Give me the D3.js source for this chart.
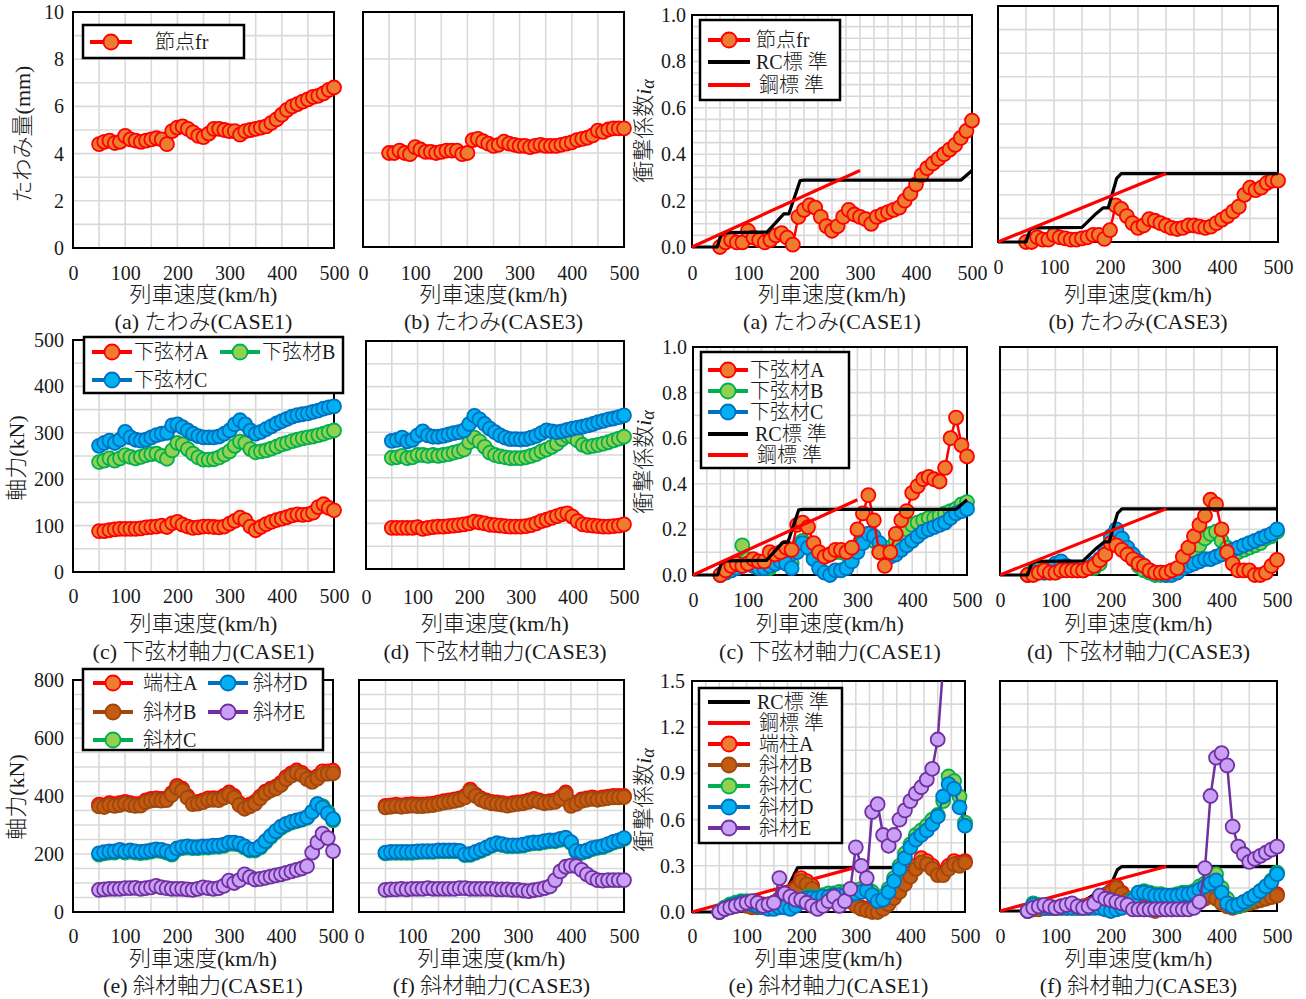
<!DOCTYPE html>
<html>
<head>
<meta charset="utf-8">
<script src="https://cdn.jsdelivr.net/npm/d3@7"></script>
<style>
  body { margin: 0; background: #fff; }
  text { font-family: "Liberation Serif", "Noto Sans CJK JP", serif; fill: #1a1a1a; font-weight: 300; }
</style>
</head>
<body>
<script>
// ---- data (km/h vs value) ----
const speeds = [50,60,70,80,90,100,110,120,130,140,150,160,170,180,190,200,210,220,230,240,250,260,270,280,290,300,310,320,330,340,350,360,370,380,390,400,410,420,430,440,450,460,470,480,490,500];
const xTicks = [0,100,200,300,400,500];
const deflTicks = [0,2,4,6,8,10];
const axialTicks = [0,100,200,300,400,500];
const diagTicks = [0,200,400,600,800];
const impactTicks = [0,0.2,0.4,0.6,0.8,1.0];
const impactTicks15 = [0,0.3,0.6,0.9,1.2,1.5];

// design standard lines
const rcSpeedC1 = [0,45,52,60,134,164,173,193,200,480,500];
const rcValC1 = [0,0,0.055,0.062,0.064,0.143,0.143,0.286,0.288,0.288,0.33];
const rcSpeedC3 = [0,50,57,65,150,175,188,197,212,220,500];
const rcValC3 = [0,0,0.05,0.06,0.062,0.12,0.145,0.145,0.27,0.29,0.29];
const steelSpeed = [0,300];
const steelValA = [0,0.33];
const steelValB = [0,0.29];

// (a)(b) deflection
const defl1 = [4.4,4.5,4.55,4.45,4.5,4.75,4.6,4.55,4.5,4.55,4.6,4.65,4.6,4.4,4.95,5.1,5.15,5.05,4.9,4.75,4.7,4.85,5.05,5.05,5.0,4.95,4.95,4.8,4.95,5.0,5.05,5.1,5.15,5.3,5.45,5.65,5.85,6.0,6.1,6.2,6.3,6.4,6.45,6.55,6.7,6.8];
const defl3 = [4.0,4.0,4.1,4.0,3.95,4.25,4.15,4.05,4.05,4.0,4.05,4.1,4.1,4.1,3.95,4.0,4.55,4.6,4.5,4.4,4.3,4.35,4.48,4.4,4.35,4.3,4.3,4.25,4.3,4.35,4.3,4.3,4.3,4.35,4.4,4.45,4.55,4.6,4.65,4.75,4.95,4.9,5.0,5.05,5.05,5.05];
const impDefl1 = [0.0,0.02,0.03,0.02,0.02,0.07,0.04,0.03,0.02,0.03,0.05,0.06,0.04,0.01,0.13,0.16,0.18,0.17,0.13,0.09,0.07,0.09,0.13,0.16,0.14,0.13,0.12,0.1,0.13,0.14,0.15,0.16,0.17,0.2,0.23,0.27,0.31,0.34,0.36,0.38,0.4,0.42,0.44,0.47,0.5,0.545];
const impDefl3 = [0.0,0.0,0.02,0.01,0.01,0.03,0.02,0.015,0.01,0.01,0.015,0.02,0.03,0.03,0.013,0.05,0.155,0.14,0.11,0.08,0.06,0.07,0.097,0.09,0.08,0.07,0.06,0.055,0.06,0.07,0.07,0.065,0.06,0.065,0.08,0.095,0.11,0.13,0.15,0.2,0.23,0.22,0.23,0.25,0.26,0.26];

// (c)(d) lower chord axial force (kN)
const chordA1 = [88,88,90,92,93,93,93,93,94,96,97,98,100,97,105,108,102,98,95,96,98,98,97,96,98,104,110,117,112,98,90,97,103,108,112,115,118,122,124,123,124,128,140,146,138,133];
const chordB1 = [237,240,245,240,245,252,248,245,248,252,254,255,250,244,262,278,275,265,255,247,242,242,243,247,253,260,272,281,278,265,258,260,262,266,270,275,278,282,285,288,290,292,295,298,302,305];
const chordC1 = [272,278,283,278,285,302,290,285,283,285,290,295,298,300,316,318,312,305,298,293,290,290,290,292,298,305,318,327,318,305,298,302,308,314,320,325,330,335,338,340,342,345,348,352,355,357];
const chordA3 = [90,90,90,90,90,92,88,90,92,93,93,94,95,96,98,100,104,102,100,97,96,95,94,93,93,93,94,96,100,105,108,112,116,120,122,115,105,98,96,95,94,93,93,94,95,98];
const chordB3 = [244,245,248,243,245,250,250,248,250,248,250,252,255,258,262,278,288,280,268,255,250,247,245,243,243,243,245,248,252,258,262,268,275,285,292,290,282,272,268,270,272,275,278,282,286,290];
const chordC3 = [281,283,288,280,283,293,302,293,290,290,292,295,298,300,304,318,336,328,318,308,300,293,288,285,285,284,285,288,292,298,304,302,300,302,305,308,310,312,315,318,322,325,328,330,333,337];

// impact factor of lower chords
const impChordA1 = [0.0,0.02,0.04,0.05,0.04,0.05,0.07,0.06,0.06,0.1,0.09,0.1,0.12,0.11,0.22,0.23,0.21,0.14,0.1,0.08,0.09,0.11,0.11,0.1,0.12,0.2,0.27,0.35,0.24,0.1,0.04,0.1,0.18,0.24,0.28,0.36,0.39,0.42,0.43,0.42,0.41,0.47,0.6,0.69,0.57,0.52];
const impChordB1 = [0.0,0.02,0.03,0.04,0.13,0.07,0.05,0.04,0.03,0.03,0.05,0.07,0.06,0.05,0.12,0.15,0.12,0.08,0.07,0.08,0.09,0.1,0.1,0.09,0.1,0.12,0.15,0.18,0.15,0.1,0.1,0.12,0.15,0.18,0.2,0.22,0.23,0.24,0.25,0.25,0.26,0.27,0.28,0.29,0.31,0.32];
const impChordC1 = [0.0,0.01,0.02,0.03,0.04,0.05,0.04,0.03,0.03,0.04,0.05,0.06,0.05,0.03,0.1,0.14,0.12,0.07,0.03,0.01,0.0,0.02,0.02,0.03,0.06,0.1,0.14,0.18,0.17,0.14,0.1,0.08,0.09,0.11,0.13,0.15,0.17,0.19,0.2,0.21,0.22,0.23,0.25,0.27,0.28,0.29];
const impChordA3 = [0.0,0.0,0.01,0.02,0.01,0.01,0.02,0.02,0.02,0.02,0.02,0.03,0.04,0.065,0.09,0.14,0.13,0.11,0.09,0.07,0.05,0.04,0.02,0.01,0.01,0.01,0.02,0.03,0.08,0.12,0.17,0.22,0.26,0.33,0.31,0.2,0.1,0.05,0.02,0.02,0.02,0.0,0.0,0.01,0.04,0.066];
const impChordB3 = [0.0,0.02,0.02,0.01,0.01,0.01,0.02,0.02,0.02,0.02,0.02,0.03,0.03,0.05,0.1,0.15,0.175,0.14,0.1,0.07,0.04,0.02,0.01,0.0,0.0,0.0,0.01,0.02,0.04,0.07,0.1,0.13,0.16,0.18,0.19,0.15,0.12,0.1,0.1,0.11,0.12,0.13,0.14,0.16,0.17,0.19];
const impChordC3 = [0.0,0.01,0.01,0.01,0.02,0.05,0.06,0.04,0.03,0.02,0.02,0.03,0.05,0.07,0.11,0.17,0.2,0.16,0.12,0.09,0.06,0.04,0.02,0.01,0.01,0.0,0.0,0.01,0.03,0.04,0.05,0.06,0.07,0.07,0.08,0.09,0.1,0.11,0.12,0.13,0.14,0.15,0.16,0.17,0.18,0.2];

// (e)(f) end post / diagonal axial force (kN)
const diagA1 = [370,368,375,372,375,380,375,372,373,385,390,392,390,392,410,435,425,400,378,380,385,392,393,392,400,412,400,375,362,370,380,398,415,425,432,445,465,478,488,480,465,455,468,485,485,487];
const diagB1 = [364,362,369,366,369,374,369,366,367,379,384,386,384,386,404,428,419,394,372,374,379,386,387,386,394,405,394,369,356,364,374,392,409,419,426,438,458,470,480,473,458,449,460,475,477,478];
const diagC1 = [198,202,205,205,210,205,208,205,203,205,208,212,210,205,198,215,220,222,220,220,222,222,225,225,228,235,235,232,222,212,212,222,240,258,275,290,300,308,313,318,325,345,372,365,345,316];
const diagD1 = [202,206,209,209,214,209,212,209,207,209,212,216,214,209,202,219,224,226,224,224,226,226,229,229,232,239,239,236,226,216,216,226,244,262,279,294,304,311,316,320,327,345,372,360,340,320];
const diagE1 = [76,78,80,80,80,82,82,83,80,82,85,90,85,82,80,80,80,78,76,80,85,82,80,82,90,108,100,110,130,120,112,114,118,122,126,130,135,140,145,150,158,205,240,270,255,210];
const diagA3 = [366,368,370,368,370,372,370,370,372,374,378,382,385,388,392,400,422,405,392,385,380,378,375,372,375,378,380,385,390,385,380,382,385,395,412,370,378,388,392,395,392,395,398,400,400,400];
const diagB3 = [361,363,365,363,365,367,365,365,367,369,373,377,380,383,387,395,416,400,387,380,375,373,370,367,370,373,375,380,385,380,375,377,380,390,406,366,373,383,387,390,387,390,393,395,395,396];
const diagC3 = [202,204,204,204,204,204,206,207,207,207,209,209,209,209,208,196,197,204,211,219,228,234,231,227,227,227,229,234,237,237,241,244,244,249,253,238,208,204,209,217,221,224,231,239,244,252];
const diagD3 = [205,207,207,207,207,207,209,210,210,210,212,212,212,212,211,199,200,207,214,222,231,237,234,230,230,230,232,237,240,240,244,247,247,252,256,241,211,207,212,220,224,227,234,242,247,255];
const diagE3 = [76,78,78,80,78,80,80,80,82,80,80,80,80,80,82,82,80,80,80,80,80,78,78,78,76,76,74,72,75,78,82,88,110,140,156,160,158,145,130,118,110,108,110,110,110,110];

// impact factor of end post / diagonals
const impDiagA1 = [0.0,0.02,0.04,0.05,0.06,0.05,0.04,0.04,0.05,0.05,0.06,0.08,0.08,0.1,0.16,0.22,0.2,0.17,0.1,0.08,0.08,0.1,0.1,0.1,0.08,0.05,0.03,0.02,0.01,0.01,0.03,0.06,0.1,0.15,0.2,0.25,0.3,0.35,0.33,0.3,0.26,0.25,0.3,0.33,0.32,0.33];
const impDiagB1 = [0.0,0.02,0.03,0.04,0.05,0.04,0.03,0.03,0.04,0.04,0.05,0.07,0.07,0.09,0.15,0.2,0.18,0.15,0.09,0.07,0.07,0.09,0.09,0.09,0.07,0.04,0.02,0.01,0.0,0.0,0.02,0.05,0.09,0.13,0.18,0.23,0.28,0.32,0.31,0.28,0.24,0.24,0.28,0.31,0.3,0.32];
const impDiagC1 = [0.0,0.03,0.05,0.06,0.07,0.07,0.06,0.05,0.04,0.03,0.03,0.04,0.04,0.03,0.05,0.08,0.1,0.1,0.1,0.11,0.12,0.12,0.13,0.13,0.13,0.14,0.15,0.16,0.13,0.09,0.1,0.15,0.22,0.3,0.38,0.44,0.5,0.53,0.56,0.6,0.63,0.72,0.88,0.85,0.75,0.58];
const impDiagD1 = [0.0,0.02,0.04,0.05,0.06,0.06,0.05,0.04,0.03,0.02,0.02,0.03,0.03,0.02,0.04,0.07,0.09,0.09,0.09,0.1,0.1,0.11,0.11,0.11,0.11,0.12,0.13,0.14,0.11,0.07,0.08,0.13,0.2,0.28,0.35,0.42,0.47,0.5,0.53,0.57,0.62,0.75,0.83,0.8,0.68,0.56];
const impDiagE1 = [0.0,0.02,0.03,0.04,0.05,0.06,0.07,0.06,0.04,0.05,0.06,0.22,0.12,0.1,0.08,0.08,0.06,0.04,0.02,0.04,0.07,0.1,0.04,0.07,0.15,0.42,0.3,0.22,0.65,0.7,0.5,0.43,0.5,0.6,0.66,0.72,0.77,0.81,0.86,0.93,1.12,1.6,1.9,2.1,2.0,1.9];
const impDiagA3 = [0.0,0.01,0.02,0.02,0.02,0.02,0.03,0.03,0.03,0.03,0.03,0.04,0.05,0.07,0.1,0.13,0.16,0.12,0.08,0.05,0.03,0.02,0.01,0.01,0.02,0.02,0.02,0.03,0.04,0.05,0.06,0.07,0.09,0.11,0.09,0.06,0.04,0.03,0.04,0.05,0.06,0.07,0.08,0.09,0.1,0.11];
const impDiagB3 = [0.0,0.01,0.01,0.02,0.02,0.02,0.02,0.02,0.02,0.02,0.03,0.03,0.04,0.06,0.09,0.12,0.15,0.11,0.07,0.04,0.02,0.01,0.01,0.0,0.01,0.01,0.01,0.02,0.03,0.04,0.05,0.06,0.08,0.1,0.08,0.05,0.03,0.02,0.03,0.04,0.05,0.06,0.07,0.08,0.09,0.1];
const impDiagC3 = [0.0,0.05,0.04,0.03,0.02,0.02,0.03,0.03,0.03,0.02,0.02,0.02,0.03,0.03,0.02,0.02,0.02,0.03,0.05,0.08,0.12,0.13,0.12,0.11,0.11,0.1,0.1,0.11,0.12,0.12,0.13,0.16,0.18,0.2,0.24,0.15,0.08,0.04,0.03,0.05,0.07,0.1,0.13,0.16,0.2,0.25];
const impDiagD3 = [0.0,0.04,0.03,0.02,0.02,0.02,0.02,0.02,0.02,0.02,0.02,0.02,0.02,0.02,0.01,0.0,0.01,0.02,0.04,0.07,0.12,0.12,0.11,0.1,0.1,0.1,0.1,0.1,0.11,0.11,0.12,0.14,0.16,0.18,0.2,0.12,0.05,0.03,0.04,0.06,0.08,0.1,0.13,0.16,0.19,0.24];
const impDiagE3 = [0.0,0.02,0.03,0.04,0.03,0.02,0.03,0.04,0.05,0.03,0.02,0.03,0.05,0.1,0.08,0.07,0.06,0.05,0.04,0.01,0.01,0.01,0.01,0.01,0.01,0.01,0.01,0.01,0.01,0.01,0.02,0.06,0.28,0.75,1.0,1.03,0.95,0.55,0.42,0.37,0.32,0.34,0.36,0.38,0.4,0.42];

// ---- styles ----
const C = {
  red:    { stroke: "#FF0000", fill: "#ED7D31", marker: true },
  green:  { stroke: "#00B050", fill: "#92D050", marker: true },
  blue:   { stroke: "#0070C0", fill: "#00B0F0", marker: true },
  brown:  { stroke: "#9E480E", fill: "#C55A11", marker: true },
  purple: { stroke: "#7030A0", fill: "#C9A0F5", marker: true },
  rc:     { stroke: "#000000", marker: false },
  steel:  { stroke: "#FF0000", marker: false }
};

const svg = d3.select("body").append("svg")
  .attr("width", 1306).attr("height", 999);
const defs = svg.append("defs");
const f1 = d3.format(".1f");
const fd = d3.format("d");

function ser(style, v, xs) { return Object.assign({ v: v, xs: xs || speeds }, style); }

function drawPanel(p) {
  const x = d3.scaleLinear().domain([0, 500]).range([p.left, p.right]);
  const y = d3.scaleLinear().domain([0, p.yMax]).range([p.bottom, p.top]);
  const g = svg.append("g");

  // grid
  const nx = Math.round(500 / p.xStep), ny = Math.round(p.yMax / p.yStep);
  g.append("g").selectAll("line").data(d3.range(1, nx)).join("line")
    .attr("x1", i => x(i * p.xStep)).attr("x2", i => x(i * p.xStep))
    .attr("y1", p.top).attr("y2", p.bottom)
    .attr("stroke", "#D9D9D9").attr("stroke-width", 1.6);
  g.append("g").selectAll("line").data(d3.range(1, ny)).join("line")
    .attr("y1", i => y(i * p.yStep)).attr("y2", i => y(i * p.yStep))
    .attr("x1", p.left).attr("x2", p.right)
    .attr("stroke", "#D9D9D9").attr("stroke-width", 1.6);

  g.append("rect")
    .attr("x", p.left).attr("y", p.top)
    .attr("width", p.right - p.left).attr("height", p.bottom - p.top)
    .attr("fill", "none").attr("stroke", "#000").attr("stroke-width", 2);

  // axes (labels only)
  const xa = g.append("g").attr("transform", `translate(0,${p.bottom})`)
    .call(d3.axisBottom(x).tickValues(xTicks).tickSize(0)
      .tickPadding(p.xLabY - p.bottom - 7.5).tickFormat(fd));
  xa.select(".domain").remove();
  xa.attr("font-size", 20).attr("font-family", null);

  if (p.yTicks) {
    const ya = g.append("g").attr("transform", `translate(${p.left},0)`)
      .call(d3.axisLeft(y).tickValues(p.yTicks).tickSize(0)
        .tickPadding(p.yPad).tickFormat(p.fmt));
    ya.select(".domain").remove();
    ya.attr("font-size", 20).attr("font-family", null);
  }

  // series
  const cid = "clip-" + p.id;
  defs.append("clipPath").attr("id", cid).append("rect")
    .attr("x", p.left - 15).attr("y", p.top)
    .attr("width", p.right - p.left + 30).attr("height", p.bottom - p.top + 15);
  const sg = g.append("g").attr("clip-path", `url(#${cid})`);
  const line = d3.line().x(d => x(d[0])).y(d => y(d[1]));
  p.series.forEach(s => {
    if (s.v.length !== s.xs.length) throw new Error("length mismatch in " + p.id);
    const pts = d3.zip(s.xs, s.v);
    sg.append("path").datum(pts).attr("d", line)
      .attr("fill", "none").attr("stroke", s.stroke)
      .attr("stroke-width", s.marker ? 2.5 : 3.2)
      .attr("stroke-linejoin", "round");
    if (s.marker) {
      sg.append("g").selectAll("circle").data(pts).join("circle")
        .attr("cx", d => x(d[0])).attr("cy", d => y(d[1])).attr("r", 7)
        .attr("fill", s.fill).attr("stroke", s.stroke).attr("stroke-width", 1.8);
    }
  });

  // titles
  const cx = (p.left + p.right) / 2;
  g.append("text").attr("x", cx).attr("y", p.titleY)
    .attr("text-anchor", "middle").attr("dominant-baseline", "central")
    .attr("font-size", 22).text("列車速度(km/h)");
  g.append("text").attr("x", cx).attr("y", p.capY)
    .attr("text-anchor", "middle").attr("dominant-baseline", "central")
    .attr("font-size", 22).text(p.caption);
}

function drawYTitle(cx, cy, label, impact) {
  const t = svg.append("text")
    .attr("transform", `translate(${cx},${cy}) rotate(-90)`)
    .attr("text-anchor", "middle").attr("dominant-baseline", "central")
    .attr("font-size", 22);
  if (impact) {
    t.append("tspan").text("衝撃係数");
    t.append("tspan").attr("font-style", "italic").text("i");
    t.append("tspan").attr("font-style", "italic").attr("dy", 5).attr("font-size", 18).text("α");
  } else {
    t.text(label);
  }
}

function drawLegend(L) {
  const g = svg.append("g");
  g.append("rect").attr("x", L.x).attr("y", L.y).attr("width", L.w).attr("height", L.h)
    .attr("fill", "#fff").attr("stroke", "#000").attr("stroke-width", 2.5);
  L.items.forEach(it => {
    g.append("line").attr("x1", it.x).attr("x2", it.x + it.len)
      .attr("y1", it.y).attr("y2", it.y)
      .attr("stroke", it.s.stroke).attr("stroke-width", 3.8);
    if (it.s.marker) {
      g.append("circle").attr("cx", it.x + it.len / 2).attr("cy", it.y).attr("r", 7.5)
        .attr("fill", it.s.fill).attr("stroke", it.s.stroke).attr("stroke-width", 1.8);
    }
    g.append("text").attr("x", it.tx).attr("y", it.y)
      .attr("dominant-baseline", "central").attr("font-size", 20).text(it.label);
  });
}

// ---- panels ----
const panels = [
  { id: "a1", left: 73, top: 12, right: 334, bottom: 248, yMax: 10, xStep: 50, yStep: 1,
    yTicks: deflTicks, fmt: fd, yPad: 9, xLabY: 273, titleY: 294, capY: 321,
    caption: "(a) たわみ(CASE1)", series: [ser(C.red, defl1)] },
  { id: "b1", left: 363, top: 12, right: 624, bottom: 247, yMax: 10, xStep: 50, yStep: 2,
    xLabY: 273, titleY: 294, capY: 321,
    caption: "(b) たわみ(CASE3)", series: [ser(C.red, defl3)] },
  { id: "a2", left: 692, top: 15, right: 972, bottom: 247, yMax: 1.0, xStep: 25, yStep: 0.05,
    yTicks: impactTicks, fmt: f1, yPad: 6, xLabY: 273, titleY: 294, capY: 321,
    caption: "(a) たわみ(CASE1)",
    series: [ser(C.red, impDefl1), ser(C.rc, rcValC1, rcSpeedC1), ser(C.steel, steelValA, steelSpeed)] },
  { id: "b2", left: 998, top: 6, right: 1278, bottom: 242, yMax: 1.0, xStep: 50, yStep: 0.1,
    xLabY: 267, titleY: 294, capY: 321,
    caption: "(b) たわみ(CASE3)",
    series: [ser(C.red, impDefl3), ser(C.rc, rcValC3, rcSpeedC3), ser(C.steel, steelValB, steelSpeed)] },

  { id: "c1", left: 73, top: 340, right: 334, bottom: 572, yMax: 500, xStep: 50, yStep: 50,
    yTicks: axialTicks, fmt: fd, yPad: 9, xLabY: 596, titleY: 623, capY: 651,
    caption: "(c) 下弦材軸力(CASE1)",
    series: [ser(C.red, chordA1), ser(C.green, chordB1), ser(C.blue, chordC1)] },
  { id: "d1", left: 366, top: 341, right: 624, bottom: 569, yMax: 500, xStep: 50, yStep: 50,
    xLabY: 597, titleY: 623, capY: 651,
    caption: "(d) 下弦材軸力(CASE3)",
    series: [ser(C.red, chordA3), ser(C.green, chordB3), ser(C.blue, chordC3)] },
  { id: "c2", left: 693, top: 347, right: 967, bottom: 575, yMax: 1.0, xStep: 25, yStep: 0.1,
    yTicks: impactTicks, fmt: f1, yPad: 6, xLabY: 600, titleY: 623, capY: 651,
    caption: "(c) 下弦材軸力(CASE1)",
    series: [ser(C.green, impChordB1), ser(C.blue, impChordC1), ser(C.red, impChordA1),
             ser(C.rc, rcValC1, rcSpeedC1), ser(C.steel, steelValA, steelSpeed)] },
  { id: "d2", left: 1000, top: 347, right: 1277, bottom: 575, yMax: 1.0, xStep: 50, yStep: 0.1,
    xLabY: 600, titleY: 623, capY: 651,
    caption: "(d) 下弦材軸力(CASE3)",
    series: [ser(C.green, impChordB3), ser(C.blue, impChordC3), ser(C.red, impChordA3),
             ser(C.rc, rcValC3, rcSpeedC3), ser(C.steel, steelValB, steelSpeed)] },

  { id: "e1", left: 73, top: 680, right: 333, bottom: 912, yMax: 800, xStep: 50, yStep: 50,
    yTicks: diagTicks, fmt: fd, yPad: 9, xLabY: 936, titleY: 958, capY: 985,
    caption: "(e) 斜材軸力(CASE1)",
    series: [ser(C.red, diagA1), ser(C.brown, diagB1), ser(C.green, diagC1), ser(C.blue, diagD1), ser(C.purple, diagE1)] },
  { id: "f1", left: 359, top: 680, right: 624, bottom: 912, yMax: 800, xStep: 50, yStep: 50,
    xLabY: 936, titleY: 958, capY: 985,
    caption: "(f) 斜材軸力(CASE3)",
    series: [ser(C.red, diagA3), ser(C.brown, diagB3), ser(C.green, diagC3), ser(C.blue, diagD3), ser(C.purple, diagE3)] },
  { id: "e2", left: 692, top: 681, right: 965, bottom: 912, yMax: 1.5, xStep: 25, yStep: 0.15,
    yTicks: impactTicks15, fmt: f1, yPad: 7, xLabY: 936, titleY: 958, capY: 985,
    caption: "(e) 斜材軸力(CASE1)",
    series: [ser(C.rc, rcValC1, rcSpeedC1), ser(C.steel, steelValB, steelSpeed),
             ser(C.red, impDiagA1), ser(C.brown, impDiagB1), ser(C.green, impDiagC1), ser(C.blue, impDiagD1), ser(C.purple, impDiagE1)] },
  { id: "f2", left: 1000, top: 681, right: 1277, bottom: 911, yMax: 1.5, xStep: 50, yStep: 0.15,
    xLabY: 936, titleY: 958, capY: 985,
    caption: "(f) 斜材軸力(CASE3)",
    series: [ser(C.rc, rcValC3, rcSpeedC3), ser(C.steel, steelValB, steelSpeed),
             ser(C.red, impDiagA3), ser(C.brown, impDiagB3), ser(C.green, impDiagC3), ser(C.blue, impDiagD3), ser(C.purple, impDiagE3)] }
];
panels.forEach(drawPanel);

// ---- y titles ----
drawYTitle(22, 134, "たわみ量(mm)", false);
drawYTitle(643, 131, null, true);
drawYTitle(16, 458, "軸力(kN)", false);
drawYTitle(643, 462, null, true);
drawYTitle(16, 797, "軸力(kN)", false);
drawYTitle(643, 800, null, true);

// ---- legends ----
drawLegend({ x: 83, y: 25, w: 161, h: 33, items: [
  { s: C.red, label: "節点fr", x: 90, len: 42, y: 42, tx: 155 } ] });
drawLegend({ x: 700, y: 20, w: 140, h: 80, items: [
  { s: C.red, label: "節点fr", x: 708, len: 42, y: 40, tx: 756 },
  { s: C.rc, label: "RC標 準", x: 708, len: 42, y: 62, tx: 756 },
  { s: C.steel, label: "鋼標 準", x: 708, len: 42, y: 85, tx: 759 } ] });
drawLegend({ x: 84, y: 337, w: 259, h: 56, items: [
  { s: C.red, label: "下弦材A", x: 92, len: 40, y: 352, tx: 134 },
  { s: C.green, label: "下弦材B", x: 220, len: 40, y: 352, tx: 262 },
  { s: C.blue, label: "下弦材C", x: 92, len: 40, y: 380, tx: 134 } ] });
drawLegend({ x: 701, y: 352, w: 148, h: 116, items: [
  { s: C.red, label: "下弦材A", x: 708, len: 40, y: 370, tx: 750 },
  { s: C.green, label: "下弦材B", x: 708, len: 40, y: 391, tx: 750 },
  { s: C.blue, label: "下弦材C", x: 708, len: 40, y: 412, tx: 750 },
  { s: C.rc, label: "RC標 準", x: 708, len: 40, y: 434, tx: 755 },
  { s: C.steel, label: "鋼標 準", x: 708, len: 40, y: 455, tx: 757 } ] });
drawLegend({ x: 83, y: 669, w: 240, h: 81, items: [
  { s: C.red, label: "端柱A", x: 93, len: 40, y: 683, tx: 143 },
  { s: C.blue, label: "斜材D", x: 208, len: 40, y: 683, tx: 253 },
  { s: C.brown, label: "斜材B", x: 93, len: 40, y: 712, tx: 143 },
  { s: C.purple, label: "斜材E", x: 208, len: 40, y: 712, tx: 253 },
  { s: C.green, label: "斜材C", x: 93, len: 40, y: 740, tx: 143 } ] });
drawLegend({ x: 699, y: 688, w: 143, h: 155, items: [
  { s: C.rc, label: "RC標 準", x: 708, len: 42, y: 702, tx: 757 },
  { s: C.steel, label: "鋼標 準", x: 708, len: 42, y: 723, tx: 759 },
  { s: C.red, label: "端柱A", x: 708, len: 42, y: 744, tx: 759 },
  { s: C.brown, label: "斜材B", x: 708, len: 42, y: 765, tx: 759 },
  { s: C.green, label: "斜材C", x: 708, len: 42, y: 786, tx: 759 },
  { s: C.blue, label: "斜材D", x: 708, len: 42, y: 807, tx: 759 },
  { s: C.purple, label: "斜材E", x: 708, len: 42, y: 828, tx: 759 } ] });
</script>
</body>
</html>
